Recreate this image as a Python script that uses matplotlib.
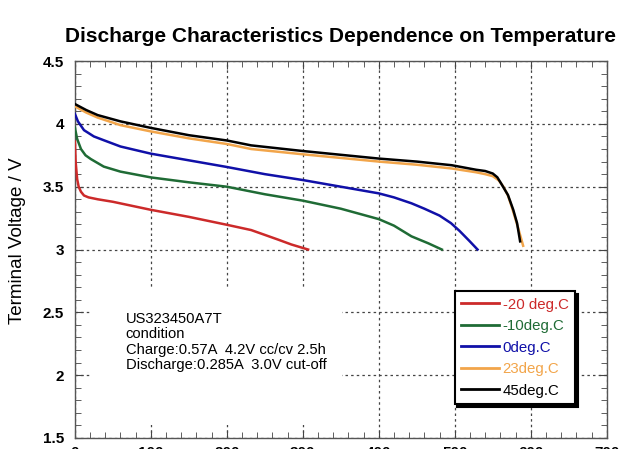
import matplotlib.pyplot as plt
from matplotlib.patches import Rectangle
from matplotlib.ticker import MultipleLocator

plt.rcParams['font.family'] = ['Liberation Sans', 'DejaVu Sans']

# discharge capacity (mAh) / terminal voltage (V) per temperature
cap_m20 = [0, 1, 3, 5, 8, 12, 18, 30, 50, 100, 150, 200, 232, 267, 285, 307]
volt_m20 = [3.86, 3.70, 3.56, 3.50, 3.46, 3.43, 3.415, 3.40, 3.38, 3.316,
            3.26, 3.197, 3.155, 3.08, 3.04, 3.0]

cap_m10 = [0, 3, 8, 14, 21, 38, 60, 100, 150, 200, 250, 300, 350, 400, 420,
           443, 465, 483]
volt_m10 = [3.97, 3.88, 3.80, 3.75, 3.72, 3.66, 3.62, 3.574, 3.535, 3.50,
            3.44, 3.389, 3.325, 3.242, 3.19, 3.105, 3.05, 3.0]

cap_0 = [0, 4, 12, 25, 38, 60, 100, 150, 200, 250, 300, 350, 400, 420, 443,
         460, 480, 495, 506, 519, 530]
volt_0 = [4.08, 4.02, 3.95, 3.90, 3.87, 3.82, 3.763, 3.71, 3.657, 3.60, 3.553,
          3.50, 3.447, 3.415, 3.368, 3.325, 3.27, 3.21, 3.15, 3.07, 3.0]

cap_23 = [0, 15, 30, 60, 100, 150, 200, 232, 300, 400, 450, 496, 528, 540,
          550, 558, 564, 570, 575, 583, 590]
volt_23 = [4.14, 4.09, 4.05, 3.99, 3.94, 3.885, 3.84, 3.80, 3.758, 3.70,
           3.675, 3.645, 3.615, 3.60, 3.584, 3.55, 3.5, 3.43, 3.34, 3.18, 3.03]

cap_45 = [0, 15, 30, 60, 100, 150, 200, 232, 300, 400, 450, 496, 528, 540,
          550, 556, 561, 570, 577, 582, 586]
volt_45 = [4.158, 4.11, 4.07, 4.02, 3.968, 3.91, 3.868, 3.829, 3.784, 3.724,
           3.70, 3.671, 3.635, 3.625, 3.605, 3.575, 3.526, 3.434, 3.316, 3.21,
           3.065]

labels = ['-20 deg.C', '-10deg.C', '0deg.C', '23deg.C', '45deg.C']
colors = ['#cc2a2a', '#1f6b35', '#1010a8', '#f2a54a', '#000000']

note = ('US323450A7T\ncondition\nCharge:0.57A  4.2V cc/cv 2.5h\n'
        'Discharge:0.285A  3.0V cut-off')

fig = plt.figure(figsize=(6.4, 4.49), dpi=100)
ax = fig.add_axes([0.117, 0.0245, 0.831, 0.8395])

series = [(cap_m20, volt_m20), (cap_m10, volt_m10), (cap_0, volt_0),
          (cap_23, volt_23), (cap_45, volt_45)]
for (x, y), lab, c in zip(series, labels, colors):
    ax.plot(x, y, color=c, lw=1.8, label=lab, zorder=3)

ax.set_xlim(0, 700)
ax.set_ylim(1.5, 4.5)
ax.xaxis.set_major_locator(MultipleLocator(100))
ax.xaxis.set_minor_locator(MultipleLocator(20))
ax.yaxis.set_minor_locator(MultipleLocator(0.1))
ax.set_yticks([1.5, 2, 2.5, 3, 3.5, 4, 4.5],
              ['1.5', '2', '2.5', '3', '3.5', '4', '4.5'])

ax.set_axisbelow(True)
ax.grid(True, which='major', color='#444444', lw=0.9, ls=(0, (2, 2.5)))
ax.tick_params(which='both', direction='in', top=True, right=True,
               color='#444444', labelsize=11)
ax.tick_params(which='major', length=6)
ax.tick_params(which='minor', length=4)
ax.tick_params(axis='y', pad=8)
ax.tick_params(axis='x', pad=6)
for t in ax.get_xticklabels() + ax.get_yticklabels():
    t.set_fontweight('bold')
for s in ax.spines.values():
    s.set_color('#555555')
    s.set_linewidth(1.0)

# white area behind the test conditions
ax.add_patch(Rectangle((20, 1.6), 332, 1.09, facecolor='white',
                       edgecolor='none', zorder=1))
ax.text(67, 2.50, note, fontsize=10.6, va='top', ha='left', linespacing=1.1,
        zorder=2)

leg = ax.legend(loc='upper left', bbox_to_anchor=(0.714, 0.39),
                borderaxespad=0, fontsize=10.8, fancybox=False,
                shadow={'color': 'black', 'alpha': 1},
                framealpha=1, edgecolor='black', handlelength=2.5,
                handletextpad=0.25, labelcolor='linecolor', borderpad=0.45)
leg.get_frame().set_linewidth(1.5)
for h in leg.get_lines():
    h.set_linewidth(2)

fig.text(0.532, 0.918, 'Discharge Characteristics Dependence on Temperature',
         ha='center', va='center', fontsize=15, fontweight='bold')
fig.text(0.028, 0.463, 'Terminal Voltage / V', rotation=90, ha='center',
         va='center', fontsize=13.5)

fig.savefig('out.png', dpi=100)
